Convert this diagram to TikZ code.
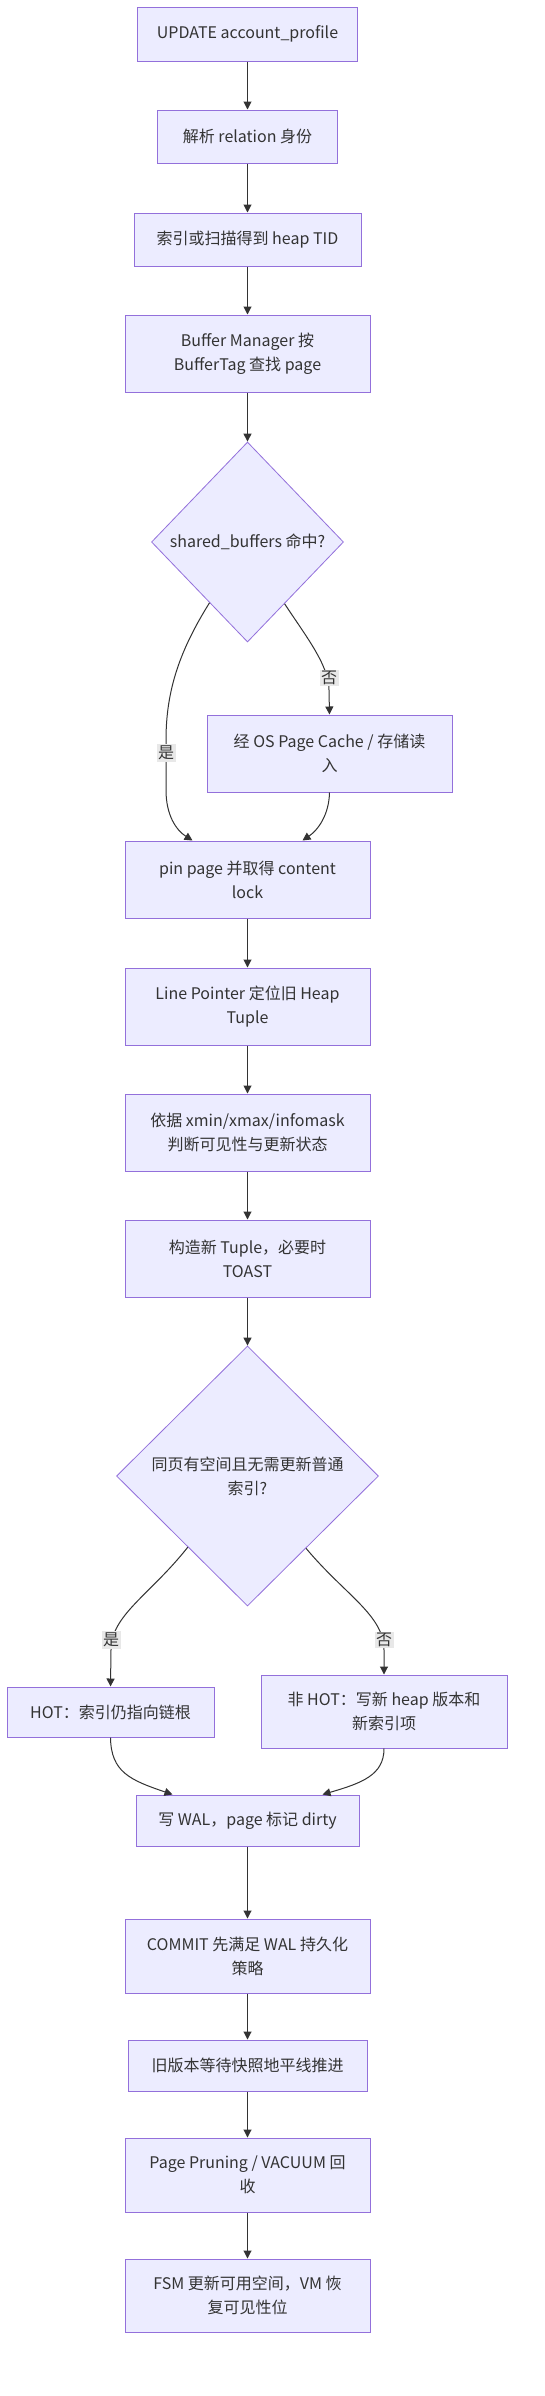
\documentclass[tikz,border=0pt]{standalone}
\usepackage{fontspec}
\setmainfont{Noto Sans CJK SC}
\usetikzlibrary{shapes.geometric,arrows.meta,calc}
\definecolor{boxfill}{HTML}{ECECFF}
\definecolor{boxline}{HTML}{9370DB}
\definecolor{edgecol}{HTML}{333333}
\definecolor{lblfill}{HTML}{E8E8E8}
\definecolor{txtcol}{HTML}{333333}
\begin{document}
\begin{tikzpicture}[x=1pt,y=-1pt,
  box/.style={rectangle, draw=boxline, fill=boxfill, line width=1pt, align=center, inner sep=0pt, text=txtcol, font=\fontsize{16}{24}\selectfont},
  dec/.style={diamond, draw=boxline, fill=boxfill, line width=0.8pt, align=center, inner sep=0pt, text=txtcol, font=\fontsize{16}{24}\selectfont},
  arr/.style={draw=edgecol, line width=1pt, -{Triangle[length=8pt,width=8pt]}},
  lbl/.style={fill=lblfill, inner sep=1.5pt, text=txtcol, font=\fontsize{16}{20}\selectfont}
]
\fill[white] (0,0) rectangle (545,2396);
\useasboundingbox (0,0) rectangle (545,2396);

\node[box, minimum width=220pt, minimum height=54pt] (n1) at (247.5,34) {UPDATE account\_profile};
\node[box, minimum width=180pt, minimum height=53pt] (n2) at (247.5,136.5) {解析 relation 身份};
\node[box, minimum width=227pt, minimum height=53pt] (n3) at (247.5,239.5) {索引或扫描得到 heap TID};
\node[box, minimum width=245pt, minimum height=77pt] (n4) at (247.5,353.5) {Buffer Manager 按\\BufferTag 查找 page};
\node[dec, minimum width=192pt, minimum height=200pt] (d1) at (247.5,542) {shared\_buffers 命中?};
\node[box, minimum width=245pt, minimum height=77pt] (n5) at (329.5,753.5) {经 OS Page Cache / 存储读\\入};
\node[box, minimum width=245pt, minimum height=77pt] (n6) at (247.5,879.5) {pin page 并取得 content\\lock};
\node[box, minimum width=245pt, minimum height=77pt] (n7) at (247.5,1006.5) {Line Pointer 定位旧 Heap\\Tuple};
\node[box, minimum width=245pt, minimum height=77pt] (n8) at (247.5,1132.5) {依据 xmin/xmax/infomask\\判断可见性与更新状态};
\node[box, minimum width=245pt, minimum height=77pt] (n9) at (247.5,1258.5) {构造新 Tuple，必要时\\TOAST};
\node[dec, minimum width=262pt, minimum height=260pt] (d2) at (247.5,1476) {同页有空间且无需更新普通\\索引?};
\node[box, minimum width=207pt, minimum height=50pt] (hot) at (110.5,1712) {HOT：索引仍指向链根};
\node[box, minimum width=246pt, minimum height=73pt] (nh) at (384,1711.5) {非 HOT：写新 heap 版本和\\新索引项};
\node[box, minimum width=223pt, minimum height=51pt] (wal) at (247.5,1820.5) {写 WAL，page 标记 dirty};
\node[box, minimum width=245pt, minimum height=74pt] (cm) at (247.5,1956) {COMMIT 先满足 WAL 持久化\\策略};
\node[box, minimum width=239pt, minimum height=51pt] (old) at (247.5,2065.5) {旧版本等待快照地平线推进};
\node[box, minimum width=245pt, minimum height=74pt] (pr) at (247.5,2175) {Page Pruning / VACUUM 回\\收};
\node[box, minimum width=245pt, minimum height=73pt] (fsm) at (247.5,2295.5) {FSM 更新可用空间，VM 恢\\复可见性位};

\draw[arr] (n1) -- (n2);
\draw[arr] (n2) -- (n3);
\draw[arr] (n3) -- (n4);
\draw[arr] (n4) -- (d1);
\draw[arr] (d1.238) .. controls (180,650) and (166,690) .. (166,740) -- (166,790) .. controls (166,815) and (176,830) .. ($(n6.north)+(-55,0)$);
\draw[arr] (d1.301) .. controls (305,635) and (329,665) .. (329,690) -- (n5.north);
\draw[arr] (n5.south) .. controls (329,815) and (318,830) .. ($(n6.north)+(55,0)$);
\node[lbl] (l1) at (166,753) {是};
\node[lbl] (l2) at (329,678) {否};
\draw[arr] (n6) -- (n7);
\draw[arr] (n7) -- (n8);
\draw[arr] (n8) -- (n9);
\draw[arr] (n9) -- (d2);
\draw[arr] (d2.230) .. controls (150,1595) and (111,1615) .. (111,1650) -- (hot.north);
\draw[arr] (d2.309) .. controls (345,1595) and (384,1615) .. (384,1650) -- (nh.north);
\node[lbl] (l3) at (111,1640) {是};
\node[lbl] (l4) at (384,1640) {否};
\draw[arr] (hot.south) .. controls (111,1772) and (130,1780) .. ($(wal.north)+(-75,0)$);
\draw[arr] (nh.south) .. controls (384,1775) and (362,1783) .. ($(wal.north)+(75,0)$);
\draw[arr] (wal) -- (cm);
\draw[arr] (cm) -- (old);
\draw[arr] (old) -- (pr);
\draw[arr] (pr) -- (fsm);
\end{tikzpicture}
\end{document}
